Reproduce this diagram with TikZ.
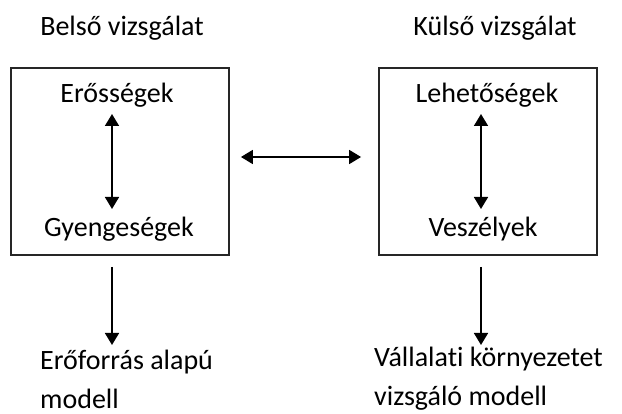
\documentclass[tikz,border=0pt]{standalone}
\usepackage{fontspec}
\setmainfont{Carlito}[Ligatures=NoCommon]
\usetikzlibrary{arrows.meta}

\tikzset{
	box/.style={draw=black!85,line width=1.8pt,minimum width=218pt,minimum height=187pt},
	lbl/.style={font=\fontsize{28}{39}\selectfont,inner sep=0pt},
	arr/.style={line width=1.6pt,-{Triangle[length=12pt,width=14pt]}},
	darr/.style={line width=1.6pt,{Triangle[length=12pt,width=14pt]}-{Triangle[length=12pt,width=14pt]}}
}

\begin{document}
\begin{tikzpicture}[x=1pt,y=-1pt]
	\useasboundingbox (0,0) rectangle (622,414);
	% boxes
	\node[box] (belso) at (120,161.5) {};
	\node[box] (kulso) at (488,161.5) {};
	\node[lbl] (tb) at (122,28) {Belső vizsgálat};
	\node[lbl] (tk) at (495,28) {Külső vizsgálat};
	\node[lbl] (ero) at (117,95) {Erősségek};
	\node[lbl] (gye) at (119,229) {Gyengeségek};
	\node[lbl] (leh) at (487,95) {Lehetőségek};
	\node[lbl] (vesz) at (483,229) {Veszélyek};
	\node[lbl,anchor=west,align=left] (eroforr) at (40,379) {Erőforrás alapú\\modell};
	\node[lbl,anchor=west,align=left] (vall) at (374,379) {Vállalati környezetet\\vizsgáló modell};
	% arrow ends
	\foreach \N/\X in {l/112,r/481}{
		\coordinate (\N1) at (\X,114);
		\coordinate (\N2) at (\X,209);
		\coordinate (\N3) at (\X,267);
		\coordinate (\N4) at (\X,345);
	}
	\draw[darr] (l1) -- (l2);
	\draw[darr] (r1) -- (r2);
	\draw[arr] (l3) -- (l4);
	\draw[arr] (r3) -- (r4);
	\draw[darr] ([xshift=11pt]belso.east |- 0,157) -- ([xshift=-17pt]kulso.west |- 0,157);
\end{tikzpicture}
\end{document}
